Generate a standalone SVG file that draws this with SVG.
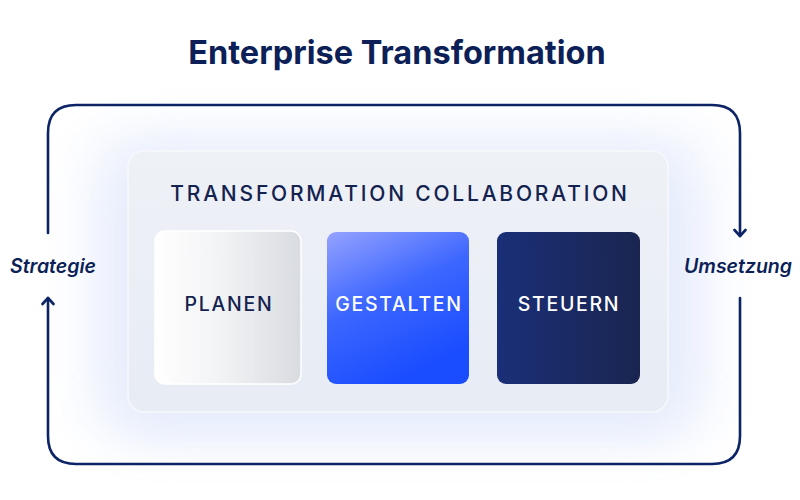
<svg xmlns="http://www.w3.org/2000/svg" width="800" height="500" viewBox="0 0 800 500">
<defs>
<style>
.title{font-family:Inter,"Liberation Sans",sans-serif;font-weight:700;font-size:32.5px;fill:#0c1f57}
.side{font-family:Inter,"Liberation Sans",sans-serif;font-weight:600;font-style:italic;font-size:19.5px;fill:#0c1f57}
.sub{font-family:Inter,"Liberation Sans",sans-serif;font-weight:500;font-size:21px;letter-spacing:2.8px;fill:#14224f}
.card{font-family:Inter,"Liberation Sans",sans-serif;font-weight:500;font-size:19.5px;letter-spacing:1.7px}
.loop{fill:none;stroke:#0c2466;stroke-width:2.6;stroke-linecap:round;stroke-linejoin:round}
</style>
<marker id="ah" viewBox="0 0 14 14" refX="9" refY="7" markerWidth="14" markerHeight="14" markerUnits="userSpaceOnUse" orient="auto-start-reverse">
<path d="M3 1.5 L9 7 L3 12.5" fill="none" stroke="#0c2466" stroke-width="2.6" stroke-linecap="round" stroke-linejoin="round"/>
</marker>
<linearGradient id="panel" x1="0" y1="0" x2="0" y2="1">
<stop offset="0" stop-color="#eef1f6"/>
<stop offset="1" stop-color="#e7ecf5"/>
</linearGradient>
<linearGradient id="gPlan" x1="0" y1="0" x2="1" y2="0">
<stop offset="0" stop-color="#ffffff"/>
<stop offset="0.45" stop-color="#f2f3f5"/>
<stop offset="1" stop-color="#d8dbe0"/>
</linearGradient>
<linearGradient id="gGest" x1="0" y1="0" x2="0.45" y2="1">
<stop offset="0" stop-color="#95a2ff"/>
<stop offset="0.5" stop-color="#3c66ff"/>
<stop offset="1" stop-color="#1a4dff"/>
</linearGradient>
<linearGradient id="gSteu" x1="0" y1="0" x2="1" y2="0">
<stop offset="0" stop-color="#1a2f78"/>
<stop offset="1" stop-color="#1a2550"/>
</linearGradient>
<filter id="blur" x="-30%" y="-30%" width="160%" height="160%"><feGaussianBlur stdDeviation="24"/></filter>
</defs>
<rect width="800" height="500" fill="#ffffff"/>
<rect x="110" y="150" width="580" height="280" rx="40" fill="#d3def9" opacity="0.85" filter="url(#blur)"/>
<rect x="80" y="125" width="640" height="320" rx="40" fill="#eef2fd" opacity="0.5" filter="url(#blur)"/>
<text class="title" x="397" y="64" text-anchor="middle">Enterprise Transformation</text>
<g id="connectors">
<path class="loop" d="M48 233 V133 Q48 105 76 105 H712 Q740 105 740 133 V236" marker-end="url(#ah)"/>
<path class="loop" d="M740 298 V436 Q740 464 712 464 H76 Q48 464 48 436 V298" marker-end="url(#ah)"/>
</g>
<g id="strategie"><text class="side" x="53" y="273" text-anchor="middle">Strategie</text></g>
<g id="umsetzung"><text class="side" x="738" y="273" text-anchor="middle">Umsetzung</text></g>
<g id="collaboration">
<rect x="128" y="151" width="540" height="261" rx="16" fill="url(#panel)" stroke="#f7f9fd" stroke-width="1.5"/>
<text class="sub" x="400" y="201" text-anchor="middle">TRANSFORMATION COLLABORATION</text>
</g>
<g id="planen">
<rect x="155" y="231" width="146" height="153" rx="10" fill="url(#gPlan)" stroke="#ffffff" stroke-width="1.5"/>
<text class="card" x="229" y="311" text-anchor="middle" fill="#14224f">PLANEN</text>
</g>
<g id="gestalten">
<rect x="327" y="232" width="142" height="152" rx="9" fill="url(#gGest)"/>
<text class="card" x="399" y="311" text-anchor="middle" fill="#ffffff">GESTALTEN</text>
</g>
<g id="steuern">
<rect x="497" y="232" width="143" height="152" rx="9" fill="url(#gSteu)"/>
<text class="card" x="569" y="311" text-anchor="middle" fill="#ffffff">STEUERN</text>
</g>
</svg>
